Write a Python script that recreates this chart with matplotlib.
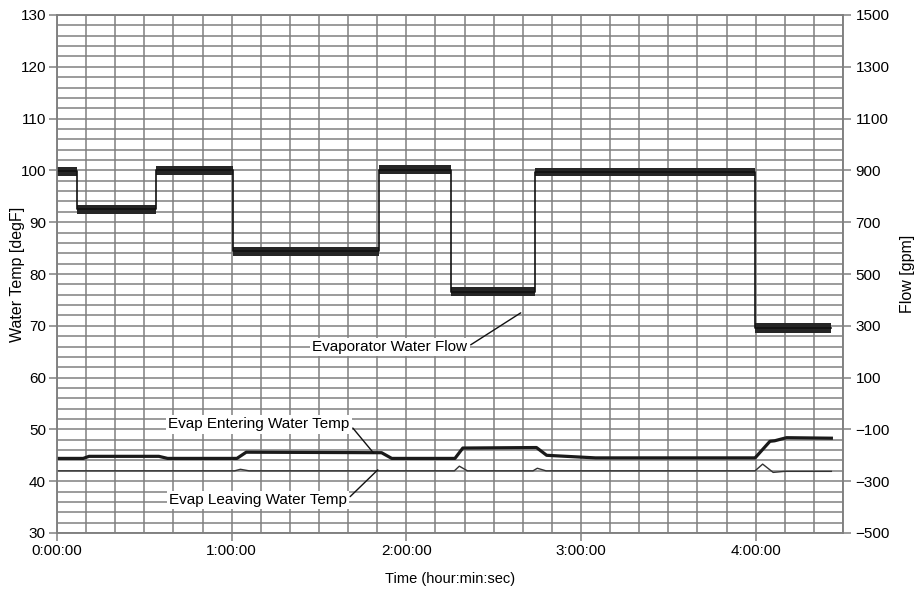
import matplotlib
matplotlib.use('Agg')
import matplotlib.pyplot as plt
from matplotlib.ticker import MultipleLocator, FixedLocator, FuncFormatter

plt.rcParams['font.family'] = ['Liberation Sans', 'DejaVu Sans']

# Расход испарителя: ступени (мин, gpm) и ширина шумовой полосы
flow_start = [0, 7.0, 33.9, 60.5, 110.6, 135.3, 164.1, 239.7]
flow_end = [7.0, 33.9, 60.5, 110.6, 135.3, 164.1, 239.7, 266.0]
flow_level = [896, 750, 900, 587, 902, 432, 894, 292]
flow_lo = [880, 732, 883, 570, 886, 415, 878, 274]
flow_hi = [913, 768, 918, 604, 920, 450, 911, 310]

# Температуры воды (мин, degF)
ent_t = [0, 9, 11, 35, 38, 61.8, 65, 111.5, 115, 136.7, 139.4, 164.7, 168.2, 185, 239.8, 244.9, 246.5, 250.6, 266]
ent_v = [44.4, 44.4, 44.8, 44.8, 44.4, 44.4, 45.6, 45.5, 44.4, 44.4, 46.4, 46.5, 45.0, 44.5, 44.5, 47.7, 47.8, 48.4, 48.3]

lev_t = [0, 61, 63, 66, 136.5, 138.2, 141, 163.5, 165, 168, 239.8, 242.4, 246, 250, 266]
lev_v = [42.0, 42.0, 42.3, 42.0, 42.0, 42.9, 42.0, 42.0, 42.5, 42.0, 42.0, 43.3, 41.7, 41.9, 41.9]

hour_ticks = [0, 60, 120, 180, 240]
flow_ticks = [-500, -300, -100, 100, 300, 500, 700, 900, 1100, 1300, 1500]
grid_col = '#808080'

fig = plt.figure(figsize=(9.17, 5.93), dpi=100)
ax = fig.add_axes([57 / 917, 1 - 533 / 593, 786 / 917, 518 / 593])
ax2 = ax.twinx()

# шкалы
ax.set_xlim(0, 270)
ax.set_ylim(30, 130)
ax2.set_ylim(-500, 1500)
ax.xaxis.set_major_locator(FixedLocator(hour_ticks))
ax.xaxis.set_minor_locator(MultipleLocator(10))
ax.xaxis.set_major_formatter(FuncFormatter(lambda v, p: f'{int(v // 60)}:00:00'))
ax.yaxis.set_major_locator(MultipleLocator(10))
ax.yaxis.set_minor_locator(MultipleLocator(2))
ax2.yaxis.set_major_locator(FixedLocator(flow_ticks))

ax.grid(True, which='both', color=grid_col, lw=1.1)
ax.set_axisbelow(True)
for a in (ax, ax2):
    for s in a.spines.values():
        s.set_color(grid_col)
        s.set_linewidth(1.1)
ax.tick_params(axis='both', which='major', labelsize=11, color=grid_col, length=6, width=1.1, pad=2)
ax.tick_params(axis='both', which='minor', length=0)
ax2.tick_params(axis='y', labelsize=11, color=grid_col, length=6, width=1.1, pad=3)

# расход
for i in range(len(flow_level)):
    ax2.fill_between([flow_start[i], flow_end[i]], flow_lo[i], flow_hi[i], color='#262626', lw=0)
step_t = []
step_v = []
for i in range(len(flow_level)):
    step_t += [flow_start[i], flow_end[i]]
    step_v += [flow_level[i], flow_level[i]]
ax2.plot(step_t, step_v, color='#111111', lw=1.2)

# температуры
ax.plot(ent_t, ent_v, color='#1a1a1a', lw=2.3, zorder=3)
ax.plot(lev_t, lev_v, color='#333333', lw=1.0, zorder=3)

box = dict(boxstyle='square,pad=0.15', fc='white', ec='none')
arrow = dict(arrowstyle='-', color='#111111', lw=1.0, relpos=(1, 0.5), shrinkA=1, shrinkB=0)
ax.annotate('Evaporator Water Flow', xy=(159.3, 72.5), xytext=(114.3, 65.9),
            ha='center', va='center', fontsize=11, bbox=box, arrowprops=arrow, zorder=5)
ax.annotate('Evap Entering Water Temp', xy=(108.8, 45.4), xytext=(69.4, 51.0),
            ha='center', va='center', fontsize=11, bbox=box, arrowprops=arrow, zorder=5)
ax.annotate('Evap Leaving Water Temp', xy=(110.2, 42.2), xytext=(69.0, 36.4),
            ha='center', va='center', fontsize=11, bbox=box, arrowprops=arrow, zorder=5)

ax.set_ylabel('Water Temp [degF]', fontsize=11.5)
ax.yaxis.set_label_coords(-0.041, 0.5)
ax2.set_ylabel('Flow [gpm]', fontsize=11.5)
ax2.yaxis.set_label_coords(1.072, 0.5)
ax.set_xlabel('Time (hour:min:sec)', fontsize=10.5, labelpad=10)

fig.savefig('out.png', dpi=100)
